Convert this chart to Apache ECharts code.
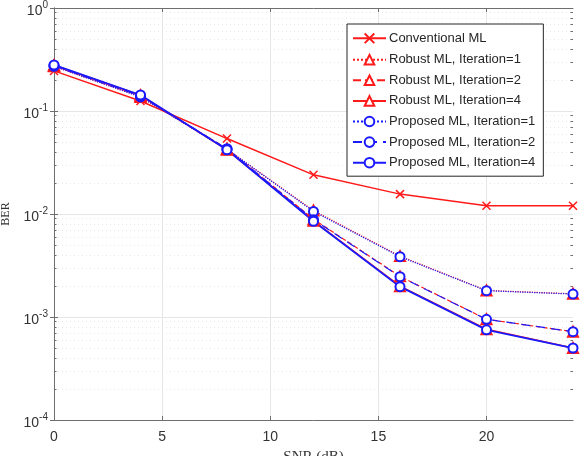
<!DOCTYPE html>
<html>
<head>
<meta charset="utf-8">
<script src="https://cdn.jsdelivr.net/npm/echarts@6/dist/echarts.min.js"></script>
<style>
  html, body { margin: 0; padding: 0; background: #fff; }
  #chart { width: 587px; height: 456px; }
</style>
</head>
<body>
<div id="chart"></div>
<script>
const snr = [0, 4, 8, 12, 16, 20, 24];
const xTicks = [0, 5, 10, 15, 20];

const conventionalML = [0.245, 0.125, 0.054, 0.024, 0.0156, 0.0120, 0.0120];
const robustIter1 = [0.272, 0.137, 0.0425, 0.0108, 0.00390, 0.00181, 0.00168];
const robustIter2 = [0.275, 0.140, 0.0430, 0.0089, 0.00248, 0.00095, 0.00072];
const robustIter4 = [0.278, 0.142, 0.0420, 0.0086, 0.00199, 0.00076, 0.00050];
const proposedIter1 = [0.272, 0.137, 0.0425, 0.0106, 0.00385, 0.00180, 0.00167];
const proposedIter2 = [0.275, 0.140, 0.0430, 0.0088, 0.00246, 0.00095, 0.00072];
const proposedIter4 = [0.280, 0.143, 0.0420, 0.0085, 0.00197, 0.00075, 0.00050];

// log-axis decades and minor positions (2..9 x 10^k)
const decades = [1e-4, 1e-3, 1e-2, 1e-1, 1];
const minorSteps = [2, 3, 4, 5, 6, 7, 8, 9];
const minorValues = [];
decades.slice(0, -1).forEach(d => minorSteps.forEach(m => minorValues.push(m * d)));

const RED = '#ff1a1a';
const BLUE = '#1a1aff';
const crossPath = 'path://M0,0L10,10M10,0L0,10';

const pairs = (ys) => snr.map((x, i) => [x, ys[i]]);

function makeSeries(name, data, color, lineType, symbol, symbolSize, width) {
  return {
    name: name,
    type: 'line',
    data: pairs(data),
    symbol: symbol,
    symbolSize: symbolSize,
    showAllSymbol: true,
    lineStyle: { color: color, width: width, type: lineType },
    itemStyle: { color: color, borderColor: color, borderWidth: 1.4 },
    emphasis: { disabled: true },
    animation: false
  };
}

const chart = echarts.init(document.getElementById('chart'), null, { renderer: 'canvas' });

const seriesList = [
  Object.assign(makeSeries('Conventional ML', conventionalML, RED, 'solid', crossPath, 8, 1.5),
    { itemStyle: { color: 'none', borderColor: RED, borderWidth: 1.5 } }),
  makeSeries('Robust ML, Iteration=1', robustIter1, RED, 'dotted', 'emptyTriangle', 10, 1.2),
  makeSeries('Robust ML, Iteration=2', robustIter2, RED, 'dashed', 'emptyTriangle', 10, 1.2),
  makeSeries('Robust ML, Iteration=4', robustIter4, RED, 'solid', 'emptyTriangle', 10, 1.5),
  makeSeries('Proposed ML, Iteration=1', proposedIter1, BLUE, 'dotted', 'emptyCircle', 9, 1.2),
  makeSeries('Proposed ML, Iteration=2', proposedIter2, BLUE, [9, 6], 'emptyCircle', 9, 1.2),
  makeSeries('Proposed ML, Iteration=4', proposedIter4, BLUE, 'solid', 'emptyCircle', 9, 1.8)
];

const axisColor = '#6e6e6e';
const labelColor = '#333';

// helper for the extra axes that only draw ticks / grid lines
function logAxis(extra) {
  return Object.assign({
    type: 'log',
    logBase: 10,
    min: 1e-4,
    max: 1,
    axisLabel: { show: false },
    splitLine: { show: false }
  }, extra);
}

const option = {
  backgroundColor: '#fff',
  animation: false,
  grid: { left: 54, right: 14, top: 8, bottom: 36, containLabel: false, outerBoundsMode: 'none' },
  legend: {
    data: seriesList.map(s => s.name),
    orient: 'vertical',
    left: 347,
    top: 24,
    width: 211,
    itemWidth: 33,
    itemHeight: 12,
    itemGap: 7.6,
    padding: [7, 8, 7, 5],
    borderColor: '#262626',
    borderWidth: 1,
    backgroundColor: '#fff',
    selectedMode: false,
    textStyle: { fontFamily: 'Liberation Sans, Arial', fontSize: 13, color: '#262626', padding: [0, 0, 0, -2] }
  },
  xAxis: [{
    type: 'value',
    min: 0,
    max: 24,
    interval: 5,
    name: 'SNR (dB)',
    nameLocation: 'middle',
    nameGap: 30,
    nameTextStyle: { fontFamily: 'Liberation Serif, Times New Roman', fontSize: 15, color: '#333', verticalAlign: 'top' },
    axisLine: { show: true, lineStyle: { color: axisColor, width: 1 } },
    axisTick: { show: true, inside: true, length: 4, customValues: xTicks, lineStyle: { color: axisColor } },
    axisLabel: { fontFamily: 'Liberation Sans, Arial', fontSize: 14, color: labelColor, margin: 10, customValues: xTicks },
    splitLine: { show: true, lineStyle: { color: '#e6e6e6', width: 1 } }
  }, {
    type: 'value',
    position: 'top',
    min: 0,
    max: 24,
    interval: 5,
    axisLine: { show: true, lineStyle: { color: axisColor, width: 1 } },
    axisTick: { show: true, inside: true, length: 4, customValues: xTicks, lineStyle: { color: axisColor } },
    axisLabel: { show: false },
    splitLine: { show: false }
  }],
  yAxis: [
    logAxis({
      name: 'BER',
      nameLocation: 'middle',
      nameGap: 42,
      nameTextStyle: { fontFamily: 'Liberation Serif, Times New Roman', fontSize: 12, color: '#333' },
      axisLine: { show: true, lineStyle: { color: axisColor, width: 1 } },
      axisTick: { show: true, inside: true, length: 4, customValues: decades, lineStyle: { color: axisColor } },
      splitLine: { show: true, lineStyle: { color: '#e6e6e6', width: 1 } },
      axisLabel: {
        margin: 6,
        customValues: decades,
        formatter: (v) => '{b|10}{s|' + Math.round(Math.log10(v)) + '}',
        rich: {
          b: { fontFamily: 'Liberation Sans, Arial', fontSize: 14, color: labelColor, padding: [6, 0, 0, 0] },
          s: { fontFamily: 'Liberation Sans, Arial', fontSize: 10, color: labelColor, padding: [0, 0, 6, 0] }
        }
      }
    }),
    logAxis({
      position: 'right',
      axisLine: { show: true, lineStyle: { color: axisColor, width: 1 } },
      axisTick: { show: true, inside: true, length: 4, customValues: decades, lineStyle: { color: axisColor } }
    }),
    // minor ticks + dotted minor grid, left side
    logAxis({
      position: 'left',
      axisLine: { show: false },
      axisTick: { show: true, inside: true, length: 2.5, customValues: minorValues, lineStyle: { color: axisColor } },
      splitLine: { show: true, lineStyle: { color: '#e9e9e9', type: [1, 3] } }
    }),
    logAxis({
      position: 'right',
      axisLine: { show: false },
      axisTick: { show: true, inside: true, length: 2.5, customValues: minorValues, lineStyle: { color: axisColor } }
    })
  ],
  series: seriesList
};

chart.setOption(option);
</script>
</body>
</html>
